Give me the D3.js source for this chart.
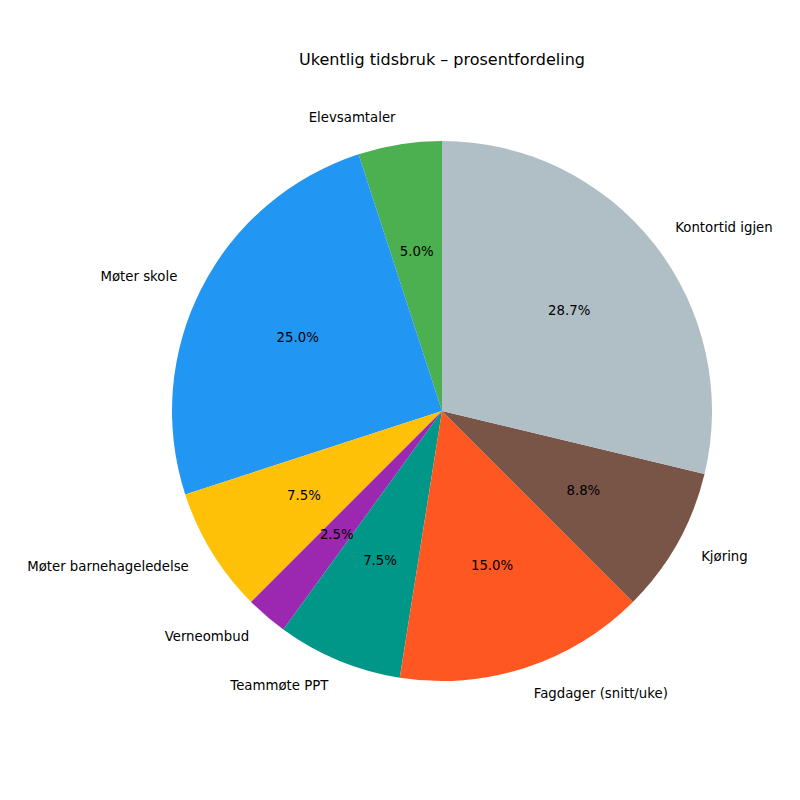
<!DOCTYPE html>
<html><head><meta charset="utf-8">
<script src="https://cdn.jsdelivr.net/npm/d3@7"></script>
<style>body{margin:0;background:#fff}</style></head>
<body><svg id="c" width="800" height="800"></svg>
<script>
const labels = ["Elevsamtaler","Møter skole","Møter barnehageledelse","Verneombud","Teammøte PPT","Fagdager (snitt/uke)","Kjøring","Kontortid igjen"];
const values = [2,10,3,1,3,6,3.5,11.5];
const colors = ["#4CAF50","#2196F3","#FFC107","#9C27B0","#009688","#FF5722","#795548","#B0BEC5"];
const title = "Ukentlig tidsbruk – prosentfordeling";

const svg = d3.select("#c");
const cx = 442, cy = 411, r = 270;
const font = "DejaVu Sans, sans-serif";
svg.append("text").attr("x",442).attr("y",65).attr("text-anchor","middle")
  .attr("font-family",font).attr("font-size",16).text(title);
const total = d3.sum(values);
const pie = d3.pie().sort(null).startAngle(0).endAngle(-2*Math.PI);
const arcs = pie(values);
const arc = d3.arc().innerRadius(0).outerRadius(r);
const g = svg.append("g").attr("transform",`translate(${cx},${cy})`);
g.selectAll("path").data(arcs).join("path").attr("d",arc)
  .attr("fill",(d,i)=>colors[i]);
arcs.forEach((d,i)=>{
  const a = (d.startAngle+d.endAngle)/2;
  const lx = 1.1*r*Math.sin(a), ly = -1.1*r*Math.cos(a);
  g.append("text").attr("x",lx).attr("y",ly).attr("dy","0.35em")
    .attr("text-anchor", lx>0?"start":"end")
    .attr("font-family",font).attr("font-size",13.3).text(labels[i]);
  const px = 0.6*r*Math.sin(a), py = -0.6*r*Math.cos(a);
  g.append("text").attr("x",px).attr("y",py).attr("dy","0.35em")
    .attr("text-anchor","middle")
    .attr("font-family",font).attr("font-size",13.3)
    .text((values[i]/total*100).toFixed(1)+"%");
});
</script></body></html>
